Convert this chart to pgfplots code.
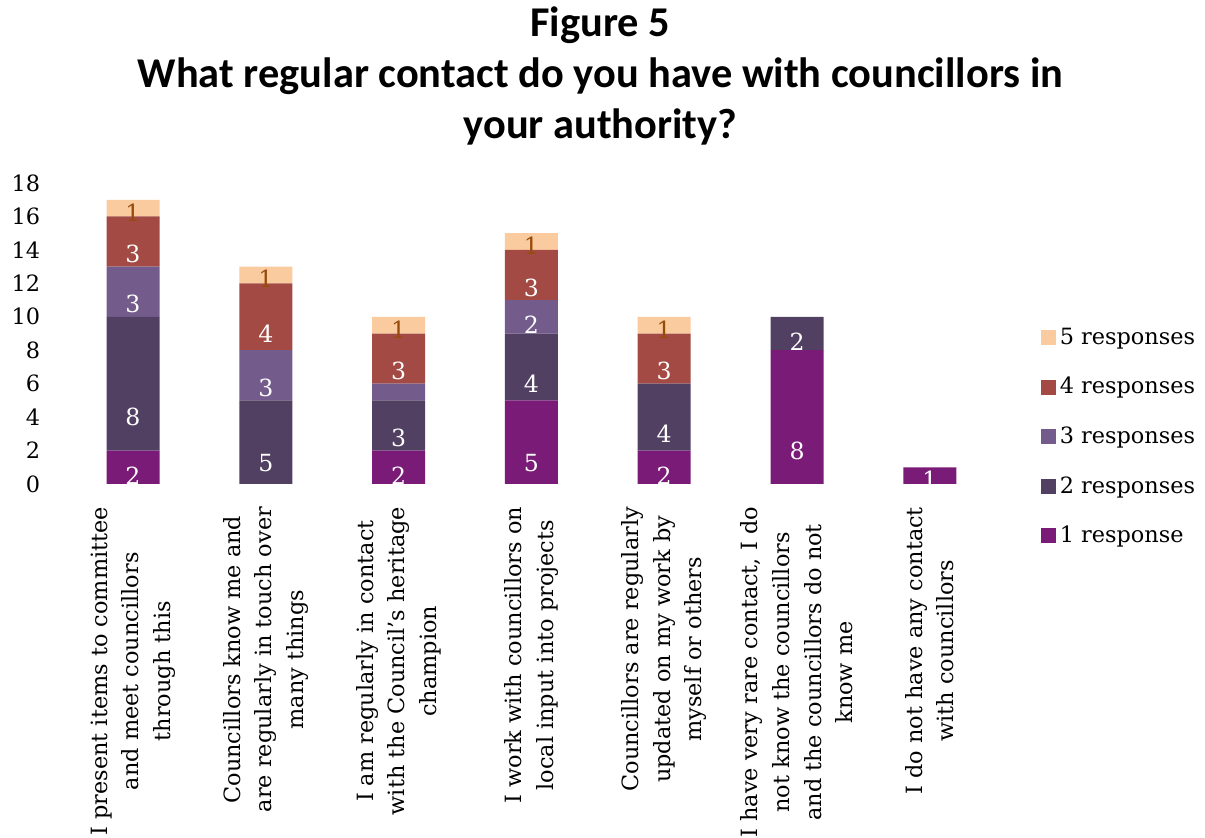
\documentclass[border=0pt]{standalone}
\usepackage{fontspec}
\setmainfont{DejaVu Serif}
\newfontfamily\carlito{Carlito}
\usepackage{pgfplots}
\pgfplotsset{compat=1.18}
\definecolor{rA}{RGB}{123,27,120}
\definecolor{rB}{RGB}{81,64,98}
\definecolor{rC}{RGB}{115,92,140}
\definecolor{rD}{RGB}{163,74,68}
\definecolor{rE}{RGB}{251,203,160}
\definecolor{labE}{RGB}{150,75,10}
\begin{document}
\begin{tikzpicture}
\useasboundingbox (-33.3pt,-177pt) rectangle (569.2pt,242pt);
\begin{axis}[
  x=66.4pt, y=8.36pt,
  xmin=-0.5, xmax=6.5, ymin=0, ymax=18,
  ybar stacked, bar width=26.5pt,
  axis line style={draw=none}, tick style={draw=none},
  ytick={0,2,...,18},
  xtick={0,...,6},
  xticklabels={
    {I present items to committee\\and meet councillors\\through this},
    {Councillors know me and\\are regularly in touch over\\many things},
    {I am regularly in contact\\with the Council's heritage\\champion},
    {I work with councillors on\\local input into projects},
    {Councillors are regularly\\updated on my work by\\myself or others},
    {I have very rare contact, I do\\not know the councillors\\and the councillors do not\\know me},
    {I do not have any contact\\with councillors}},
  /pgf/number format/assume math mode=true,
  ticklabel style={font=\fontsize{11.2}{15.8}\selectfont},
  xticklabel style={rotate=90, anchor=east, align=center, inner sep=0pt, outer xsep=11.5pt},
  yticklabel style={anchor=east, inner sep=0pt, xshift=-13pt},
  title={Figure 5\\What regular contact do you have with councillors in\\your authority?},
  title style={font=\carlito\bfseries\fontsize{21.2}{25.5}\selectfont, align=center,
    at={(0.5,1)}, anchor=south, yshift=12.5pt, xshift=34.5pt, inner sep=0pt},
  visualization depends on=rawy \as \rawy,
  point meta=explicit symbolic,
  nodes near coords={\pgfplotspointmeta},
  every node near coord/.append style={anchor=center, yshift=-\rawy*2.09pt,
    font=\fontsize{11.8}{13}\selectfont, text=white},
  reverse legend,
  legend image code/.code={\fill[#1] (0pt,-3.75pt) rectangle (7.5pt,3.75pt);},
  legend style={at={(1.0475,0.533)}, anchor=north west, draw=none, fill=none,
    inner sep=0pt, row sep=11pt, font=\fontsize{11.2}{13}\selectfont,
    legend cell align=left},
]
\addplot[fill=rA, draw=none] coordinates {(0,2)[2] (1,0)[{}] (2,2)[2] (3,5)[5] (4,2)[2] (5,8)[8] (6,1)[1]};
\addlegendentry{1 response}
\addplot[fill=rB, draw=none] coordinates {(0,8)[8] (1,5)[5] (2,3)[3] (3,4)[4] (4,4)[4] (5,2)[2] (6,0)[{}]};
\addlegendentry{2 responses}
\addplot[fill=rC, draw=none] coordinates {(0,3)[3] (1,3)[3] (2,1)[{}] (3,2)[2] (4,0)[{}] (5,0)[{}] (6,0)[{}]};
\addlegendentry{3 responses}
\addplot[fill=rD, draw=none] coordinates {(0,3)[3] (1,4)[4] (2,3)[3] (3,3)[3] (4,3)[3] (5,0)[{}] (6,0)[{}]};
\addlegendentry{4 responses}
\addplot[fill=rE, draw=none, every node near coord/.append style={text=labE}] coordinates {(0,1)[1] (1,1)[1] (2,1)[1] (3,1)[1] (4,1)[1] (5,0)[{}] (6,0)[{}]};
\addlegendentry{5 responses}
\end{axis}
\end{tikzpicture}
\end{document}
